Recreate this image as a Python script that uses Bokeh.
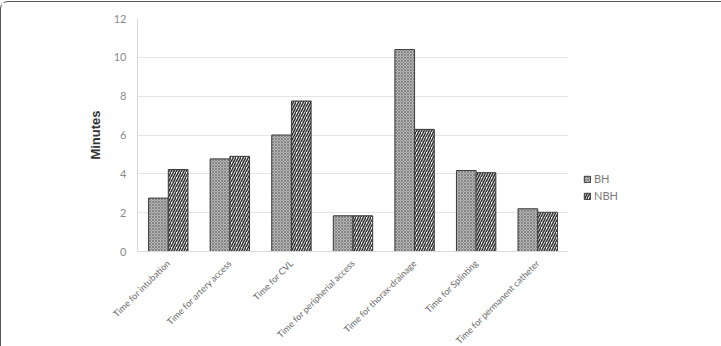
import math
from bokeh.plotting import figure
from bokeh.models import ColumnDataSource, Legend, LegendItem, FactorRange
from bokeh.transform import dodge
from bokeh.layouts import column
from bokeh.embed import file_html
from bokeh.resources import INLINE

# Procedure times (minutes) for the two groups
procedures = [
    "Time for intubation",
    "Time for artery access",
    "Time for CVL",
    "Time for peripherial access",
    "Time for thorax-drainage",
    "Time for Splinting",
    "Time for permanent catheter",
]
bh_minutes = [2.75, 4.77, 6.0, 1.84, 10.4, 4.17, 2.2]
nbh_minutes = [4.22, 4.9, 7.75, 1.84, 6.29, 4.06, 2.02]
y_ticks = [0, 2, 4, 6, 8, 10, 12]

source = ColumnDataSource(dict(proc=procedures, bh=bh_minutes, nbh=nbh_minutes))

p = figure(
    x_range=FactorRange(*procedures, range_padding=0),
    y_range=(0, 12),
    frame_width=431, frame_height=233,
    output_backend="svg",
    toolbar_location=None,
    min_border_left=136, min_border_right=150,
    min_border_top=16, min_border_bottom=92,
    outline_line_color=None,
    background_fill_color="white",
    border_fill_color="white",
)

bar_w = 0.32
outline = "#3a3a3a"
r_bh = p.vbar(
    x=dodge("proc", -bar_w / 2, range=p.x_range), top="bh", width=bar_w, source=source,
    fill_color="#b8b8b8", line_color=outline, line_width=1,
    hatch_pattern="x", hatch_scale=3, hatch_color="#777777", hatch_weight=0.8,
)
r_nbh = p.vbar(
    x=dodge("proc", bar_w / 2, range=p.x_range), top="nbh", width=bar_w, source=source,
    fill_color="white", line_color=outline, line_width=1,
    hatch_pattern="/", hatch_scale=5, hatch_color="#333333", hatch_weight=1.6,
)

# axes and grid
p.yaxis.ticker = y_ticks
p.yaxis.axis_line_color = "#d9d9d9"
p.yaxis.major_tick_line_color = None
p.yaxis.minor_tick_line_color = None
p.yaxis.major_label_text_color = "#8a8a8a"
p.yaxis.major_label_text_font = "Lato"
p.yaxis.major_label_text_font_size = "11px"
p.yaxis.major_label_standoff = 5
p.yaxis.axis_label = "Minutes"
p.yaxis.axis_label_text_font = "Liberation Sans"
p.yaxis.axis_label_text_font_style = "bold"
p.yaxis.axis_label_text_font_size = "13px"
p.yaxis.axis_label_text_color = "#333333"
p.yaxis.axis_label_standoff = 8

p.xaxis.axis_line_color = "#d9d9d9"
p.xaxis.major_tick_line_color = None
p.xaxis.minor_tick_line_color = None
p.xaxis.major_label_orientation = math.pi / 4
p.xaxis.major_label_text_color = "#666666"
p.xaxis.major_label_text_font = "Lato"
p.xaxis.major_label_text_font_size = "9px"
p.xaxis.major_label_standoff = 4

p.xgrid.grid_line_color = None
p.ygrid.grid_line_color = "#e4e4e4"
p.ygrid.grid_line_width = 1

legend = Legend(
    items=[LegendItem(label="BH", renderers=[r_bh]), LegendItem(label="NBH", renderers=[r_nbh])],
    location=(15, 49),
    orientation="vertical",
    glyph_width=8, glyph_height=8,
    label_text_font="Lato", label_text_font_size="11px", label_text_color="#7a7a7a",
    label_standoff=3, spacing=4, padding=0, margin=0,
    border_line_color=None, background_fill_alpha=0,
)
p.add_layout(legend, "right")

page = column(p, styles={
    "border-top": "1.5px solid #555",
    "border-left": "1.5px solid #555",
    "border-right": "1.5px solid #555",
    "border-radius": "8px 8px 0 0",
    "margin-top": "1px",
})

open("out.html", "w").write(file_html(page, INLINE))
